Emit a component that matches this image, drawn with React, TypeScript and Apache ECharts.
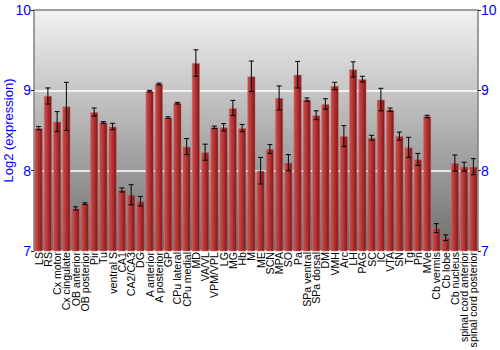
import React, { useEffect, useRef } from "react";
import * as echarts from "echarts";

const categories = [
  "LS", "RS", "Cx motor", "Cx cingulate", "OB anterior", "OB posterior", "Pir", "Tu",
  "ventral S", "CA1", "CA2/CA3", "DG", "A anterior", "A posterior", "GP", "CPu lateral",
  "CPu medial", "MD", "VA/VL", "VPM/VPL", "LG", "MG", "Hb", "M",
  "ME", "SCN", "MPA", "SO", "Pa", "SPa ventral", "SPa dorsal", "DM",
  "VMH", "Arc", "LH", "PAG", "SC", "IC", "VTA", "SN",
  "Tg", "Pn", "MVe", "Cb vermis", "Cb lobe", "Cb nucleus", "spinal cord anterior", "spinal cord posterior",
];

const values = [
  8.53, 8.93, 8.61, 8.80, 7.53, 7.59, 8.73, 8.60,
  8.55, 7.76, 7.70, 7.62, 8.99, 9.08, 8.66, 8.84,
  8.30, 9.34, 8.23, 8.54, 8.54, 8.78, 8.53, 9.175,
  8.00, 8.27, 8.905, 8.10, 9.195, 8.885, 8.69, 8.83,
  9.055, 8.43, 9.26, 9.14, 8.41, 8.885, 8.76, 8.43,
  8.29, 8.14, 8.675, 7.285, 7.165, 8.095, 8.05, 8.05,
];

const errors = [
  0.02, 0.1, 0.125, 0.3, 0.02, 0.01, 0.05, 0.01,
  0.04, 0.025, 0.125, 0.06, 0.01, 0.01, 0.01, 0.01,
  0.1, 0.165, 0.1, 0.015, 0.045, 0.095, 0.045, 0.19,
  0.165, 0.055, 0.15, 0.1, 0.165, 0.02, 0.055, 0.065,
  0.045, 0.13, 0.095, 0.035, 0.03, 0.14, 0.02, 0.05,
  0.125, 0.075, 0.015, 0.055, 0.035, 0.1, 0.055, 0.1,
];

const yTicks = { min: 7, max: 10, interval: 1 };

export default function App() {
  const ref = useRef<HTMLDivElement>(null);
  useEffect(() => {
    if (!ref.current) return;
    document.body.style.margin = "0";
    const chart = echarts.init(ref.current, undefined, { renderer: "svg" });
    const errData = values.map((v, i) => [i, v - errors[i], v + errors[i]]);
    const blue = "#0000ff";
    const font = "Liberation Sans, Arial, sans-serif";
    const yAxisBase = {
      type: "value",
      min: yTicks.min,
      max: yTicks.max,
      interval: yTicks.interval,
      axisLine: { show: true, lineStyle: { color: "#808080", width: 1.5 } },
      axisTick: { show: true, length: 3, lineStyle: { color: "#222" } },
      axisLabel: { color: blue, fontSize: 14, fontFamily: font, margin: 3 },
    };
    chart.setOption({
      animation: false,
      grid: {
        left: 34,
        right: 22,
        top: 10,
        bottom: 99,
        outerBoundsMode: "none",
        containLabel: false,
        show: true,
        borderWidth: 0,
        backgroundColor: new echarts.graphic.LinearGradient(0, 0, 0, 1, [
          { offset: 0, color: "#f2f2f2" },
          { offset: 1, color: "#6e6e6e" },
        ]),
      },
      xAxis: {
        type: "category",
        data: categories,
        axisLine: { show: false },
        axisTick: { show: false },
        axisLabel: {
          interval: 0,
          rotate: 90,
          fontSize: 10.6,
          color: "#000",
          fontFamily: font,
          margin: 1,
        },
      },
      yAxis: [
        {
          ...yAxisBase,
          position: "left",
          name: "Log2 (expression)",
          nameLocation: "middle",
          nameGap: 19,
          nameMoveOverlap: false,
          nameTextStyle: { color: blue, fontSize: 13, fontFamily: font },
          splitLine: { show: true, lineStyle: { color: "#ffffff", width: 1.5 } },
        },
        {
          ...yAxisBase,
          position: "right",
          splitLine: { show: false },
        },
      ],
      graphic: [
        {
          type: "line",
          shape: { x1: 34, y1: 10, x2: 478, y2: 10 },
          style: { stroke: "#808080", lineWidth: 1.5 },
          z: 100,
        },
      ],
      series: [
        {
          type: "bar",
          data: values,
          barCategoryGap: "12%",
          itemStyle: {
            color: new echarts.graphic.LinearGradient(0, 0, 1, 0, [
              { offset: 0, color: "#c85050" },
              { offset: 0.45, color: "#b53434" },
              { offset: 1, color: "#7c1616" },
            ]),
            borderColor: "rgba(210,110,110,0.6)",
            borderWidth: 0.8,
          },
        },
        {
          type: "custom",
          data: errData,
          z: 10,
          renderItem: (params: any, api: any) => {
            const x = api.value(0);
            const lo = api.coord([x, api.value(1)]);
            const hi = api.coord([x, api.value(2)]);
            const hw = 2.5;
            const style = { stroke: "#000", lineWidth: 1 };
            return {
              type: "group",
              children: [
                { type: "line", shape: { x1: lo[0], y1: lo[1], x2: hi[0], y2: hi[1] }, style },
                { type: "line", shape: { x1: lo[0] - hw, y1: lo[1], x2: lo[0] + hw, y2: lo[1] }, style },
                { type: "line", shape: { x1: hi[0] - hw, y1: hi[1], x2: hi[0] + hw, y2: hi[1] }, style },
              ],
            };
          },
        },
      ],
    });
    return () => chart.dispose();
  }, []);
  return <div ref={ref} style={{ width: 500, height: 350 }} />;
}
